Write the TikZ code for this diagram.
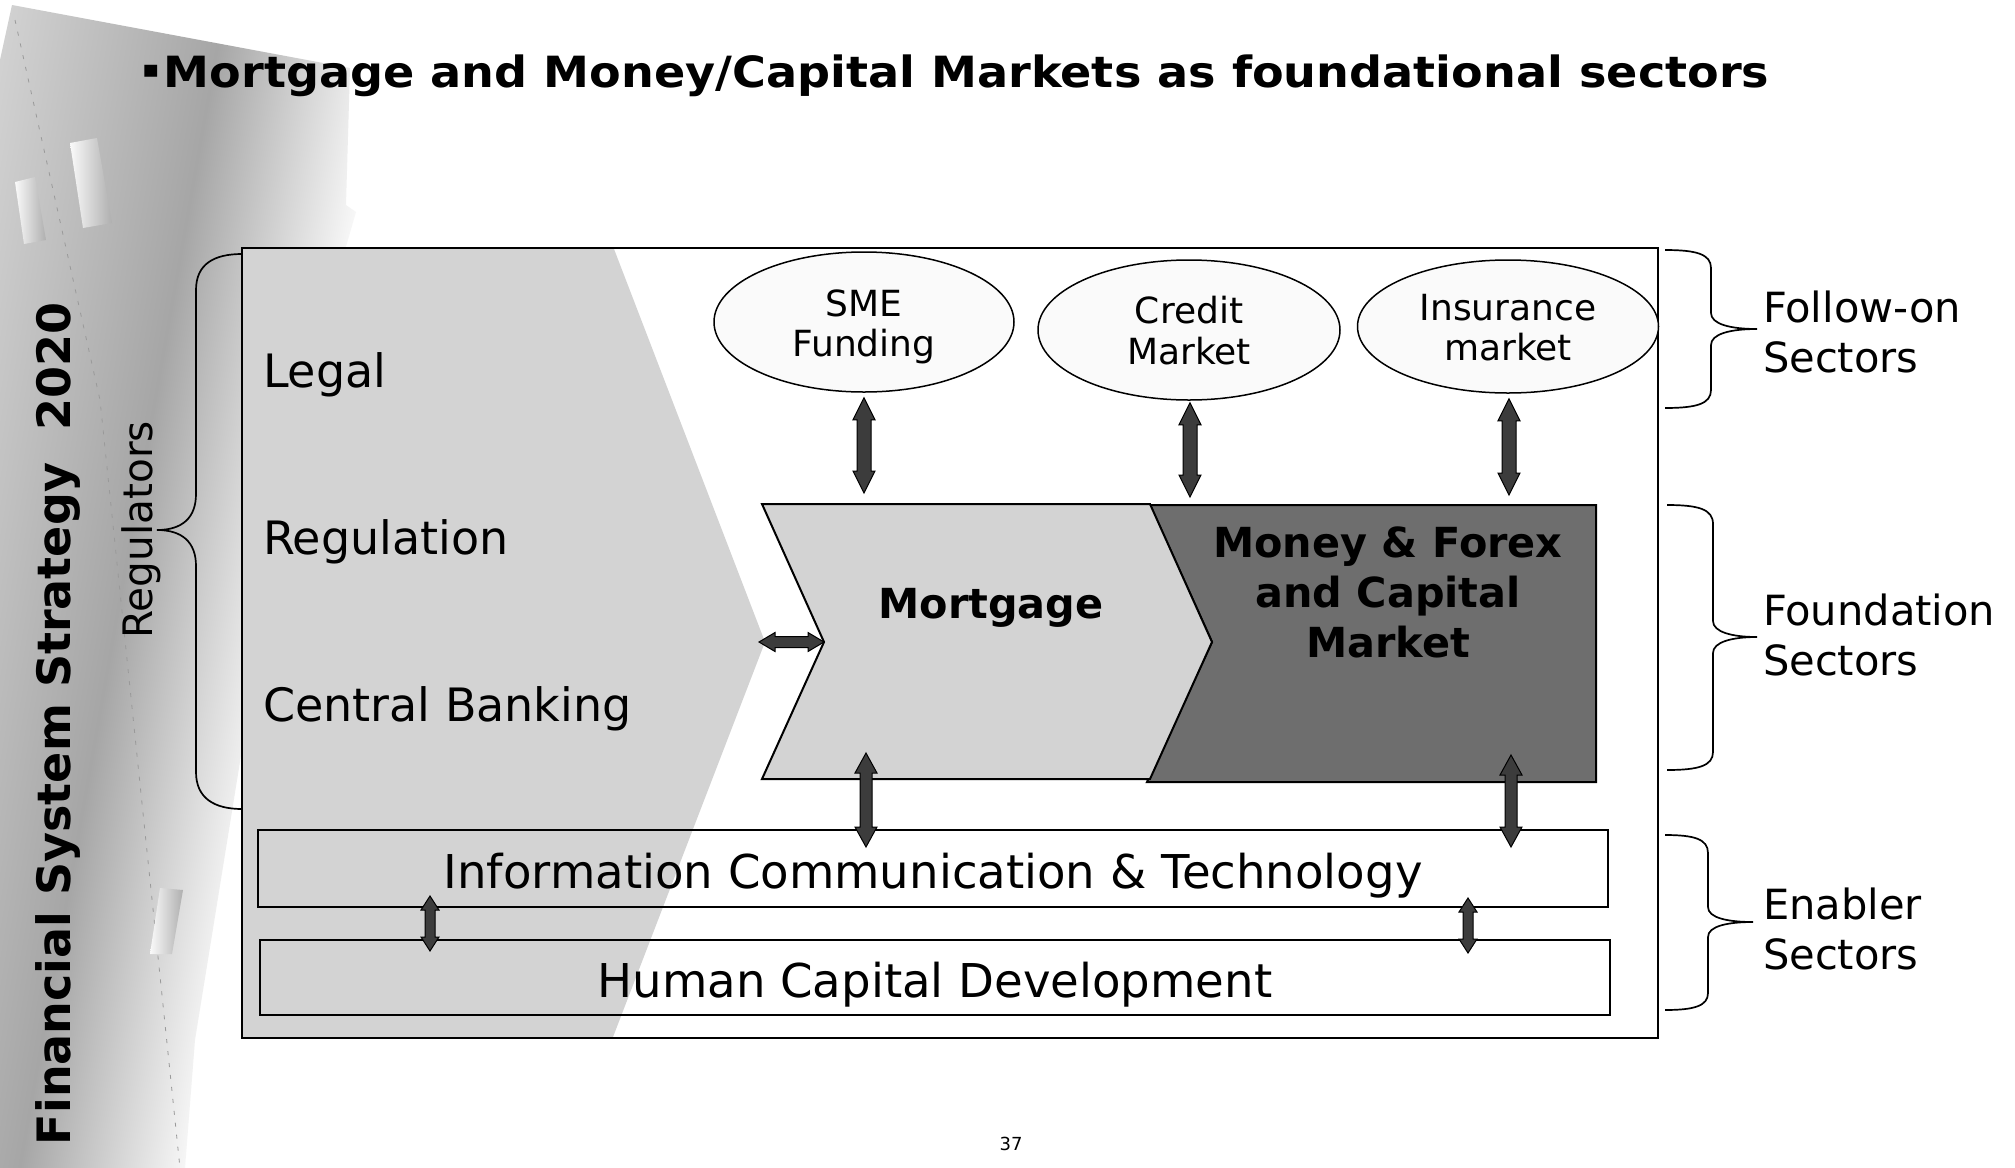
\documentclass[tikz,border=0pt]{standalone}
\usepackage{graphicx}
\usepackage{fontspec}
\setmainfont{DejaVu Sans}
\usetikzlibrary{shapes.geometric,calc}

\definecolor{regiongray}{RGB}{211,211,211}
\definecolor{moneygray}{RGB}{110,110,110}
\definecolor{arrowgray}{RGB}{60,60,60}
\definecolor{ellfill}{RGB}{250,250,250}
\definecolor{curlL}{RGB}{215,215,215}
\definecolor{curlB}{RGB}{166,166,166}
\definecolor{curlW}{RGB}{255,255,255}
\definecolor{cylA}{RGB}{250,250,250}
\definecolor{cylB}{RGB}{175,175,175}
\pgfdeclarehorizontalshading{curlshade}{100bp}{color(0bp)=(curlL); color(41bp)=(curlL); color(49bp)=(curlB); color(55bp)=(curlW); color(100bp)=(curlW)}

% fat vertical double arrow: #1 top tip, #2 bottom tip, #3 half shaft, #4 half head, #5 head length
\newcommand{\fatVArrow}[5]{%
  \filldraw[fatarrow] (#1) -- ($(#1)+(#4,#5)$) -- ($(#1)+(#3,#5)$) -- ($(#2)+(#3,-#5)$) -- ($(#2)+(#4,-#5)$) -- (#2) -- ($(#2)+(-#4,-#5)$) -- ($(#2)+(-#3,-#5)$) -- ($(#1)+(-#3,#5)$) -- ($(#1)+(-#4,#5)$) -- cycle;}
% fat horizontal double arrow: #1 left tip, #2 right tip
\newcommand{\fatHArrow}[5]{%
  \filldraw[fatarrow] (#1) -- ($(#1)+(#5,-#4)$) -- ($(#1)+(#5,-#3)$) -- ($(#2)+(-#5,-#3)$) -- ($(#2)+(-#5,-#4)$) -- (#2) -- ($(#2)+(-#5,#4)$) -- ($(#2)+(-#5,#3)$) -- ($(#1)+(#5,#3)$) -- ($(#1)+(#5,#4)$) -- cycle;}

\begin{document}
\begin{tikzpicture}[x=0.5pt,y=-0.5pt,
  txt/.style={inner sep=0pt, outer sep=0pt},
  lefttxt/.style={txt, anchor=base west, font=\fontsize{23}{27}\selectfont},
  sidetxt/.style={txt, anchor=base west, font=\fontsize{20.8}{24}\selectfont},
  elltxt/.style={txt, anchor=base, font=\fontsize{18}{21}\selectfont},
  moneytxt/.style={txt, anchor=base, font=\bfseries\fontsize{20.7}{24}\selectfont},
  sector/.style={ellipse, draw=black, line width=0.75pt, fill=ellfill, inner sep=0pt},
  enabler/.style={rectangle, draw=black, line width=1pt, inner sep=0pt,
     minimum width=675pt, minimum height=38.5pt, text height=20pt, text depth=0pt,
     font=\fontsize{23.3}{27}\selectfont},
  fatarrow/.style={fill=arrowgray, draw=black, line width=0.5pt, line join=miter},
  bracestyle/.style={draw=black, line width=0.85pt},
  cyl/.style={left color=cylA, right color=cylB}
]
\useasboundingbox (0,0) rectangle (2015,1168);
\fill[white] (0,0) rectangle (2015,1168);

% ---- decorative page curl on the left ----
\begin{scope}
  \clip (12,5) -- (350,68) -- (346,205) -- (356,212) -- (345,250) -- (250,700) -- (195,1040) -- (185,1168) -- (0,1168) -- (0,60) -- cycle;
  \begin{scope}[transform canvas={rotate around={-10:(120,600)}}]
    \shade[shading=curlshade] (-600,-600) rectangle (900,1800);
  \end{scope}
\end{scope}
\draw[black!40, line width=0.4pt, dash pattern=on 2pt off 4pt] (15,20) -- (100,400) -- (180,1168);
\shade[cyl] (70,143) -- (97,138) -- (112,223) -- (83,228) -- cycle;
\shade[cyl] (15,182) -- (35,177) -- (46,240) -- (24,244) -- cycle;
\shade[cyl] (160,888) -- (183,890) -- (172,954) -- (150,954) -- cycle;

% ---- main frame ----
\fill[white] (242,248) rectangle (1658,1038);
\fill[regiongray] (243,249) -- (614,249) -- (765,642) -- (613,1037) -- (243,1037) -- cycle;
\draw[line width=1pt] (242,248) rectangle (1658,1038);

% ---- left brace (Regulators) ----
\draw[bracestyle] (242,254) .. controls (214,254) and (196,264) .. (196,290) -- (196,494)
  .. controls (196,518) and (182,530) .. (157,530)
  .. controls (182,530) and (196,542) .. (196,566) -- (196,772)
  .. controls (196,798) and (214,809) .. (242,809);

% ---- follow-on sectors ----
\node[sector, minimum width=150pt, minimum height=70pt] (sme) at (864,322) {};
\node[sector, minimum width=151pt, minimum height=70pt] (credit) at (1189,330) {};
\node[sector, minimum width=150.5pt, minimum height=66.5pt] (ins) at (1508,326.5) {};
\node[elltxt] (smeA) at (864,316) {SME};
\node[elltxt] (smeB) at (864,356) {Funding};
\node[elltxt] (creA) at (1189,323) {Credit};
\node[elltxt] (creB) at (1189,364) {Market};
\node[elltxt] (insA) at (1508,320) {Insurance};
\node[elltxt] (insB) at (1508,360) {market};

% ---- foundation sectors ----
\coordinate (mTL) at (762,504);
\coordinate (mNotch) at (824,642);
\coordinate (mBL) at (762,779);
\coordinate (mTR) at (1150,504);
\coordinate (mTip) at (1212,642);
\coordinate (mBR) at (1150,779);
\coordinate (kTL) at (1150,505);
\coordinate (kTR) at (1596,505);
\coordinate (kBR) at (1596,782);
\coordinate (kBL) at (1147,782);
\filldraw[fill=moneygray, draw=black, line width=1pt] (kTL) -- (kTR) -- (kBR) -- (kBL) -- (mTip) -- cycle;
\filldraw[fill=regiongray, draw=black, line width=1pt] (mTL) -- (mTR) -- (mTip) -- (mBR) -- (mBL) -- (mNotch) -- cycle;
\node[txt, anchor=base, font=\bfseries\fontsize{20.7}{24}\selectfont] (mort) at (991,618) {Mortgage};
\node[moneytxt] (mon1) at (1388,557) {Money \& Forex};
\node[moneytxt] (mon2) at (1388,607) {and Capital};
\node[moneytxt] (mon3) at (1388,657) {Market};

% ---- enabler sectors ----
\node[enabler] (ict) at (933,868.5) {Information Communication \& Technology};
\node[enabler, minimum height=37.5pt] (hcd) at (935,977.5) {Human Capital Development};

% ---- connectors ----
\coordinate (a1t) at ($(sme.south)+(0,5)$);
\coordinate (a1b) at (864,493);
\coordinate (a2t) at ($(credit.south)+(1,2)$);
\coordinate (a2b) at (1190,497);
\coordinate (a3t) at ($(ins.south)+(1,5)$);
\coordinate (a3b) at (1509,495);
\coordinate (a4l) at (759,642);
\coordinate (a5t) at (866,753);
\coordinate (a5b) at ($(ict.north)+(-67,18)$);
\coordinate (a6t) at (1511,755);
\coordinate (a6b) at ($(ict.north)+(578,18)$);
\coordinate (a7t) at ($(ict.south)+(-503,-12)$);
\coordinate (a7b) at ($(hcd.north)+(-505,12)$);
\coordinate (a8t) at ($(ict.south)+(535,-10)$);
\coordinate (a8b) at ($(hcd.north)+(533,14)$);
\fatVArrow{a1t}{a1b}{7}{11}{22}
\fatVArrow{a2t}{a2b}{7}{11}{22}
\fatVArrow{a3t}{a3b}{7}{11}{22}
\fatHArrow{a4l}{mNotch}{5.5}{9.5}{16}
\fatVArrow{a5t}{a5b}{6}{11}{20}
\fatVArrow{a6t}{a6b}{6}{11}{20}
\fatVArrow{a7t}{a7b}{5}{9}{14}
\fatVArrow{a8t}{a8b}{5}{9}{14}

% ---- regulator texts ----
\node[lefttxt] (legal) at (263,387) {Legal};
\node[lefttxt] (regul) at (263,554) {Regulation};
\node[lefttxt] (cbank) at (263,721) {Central Banking};
\node[txt, rotate=90, anchor=base, font=\fontsize{20.3}{24}\selectfont] (regs) at (152,530) {Regulators};
\node[txt, rotate=90, anchor=base, font=\bfseries\fontsize{23}{28}\selectfont] (fss) at (70,724) {Financial System Strategy\ \ 2020};

% ---- right braces and labels ----
\draw[bracestyle] (1665,250) .. controls (1696,250) and (1711,254) .. (1711,268) -- (1711,313)
  .. controls (1711,324) and (1730,329) .. (1757,329)
  .. controls (1730,329) and (1711,334) .. (1711,345) -- (1711,390)
  .. controls (1711,404) and (1696,408) .. (1665,408);
\draw[bracestyle] (1667,505) .. controls (1698,505) and (1713,509) .. (1713,524) -- (1713,621)
  .. controls (1713,632) and (1732,637) .. (1757,637)
  .. controls (1732,637) and (1713,642) .. (1713,653) -- (1713,752)
  .. controls (1713,766) and (1698,770) .. (1667,770);
\draw[bracestyle] (1665,835) .. controls (1694,835) and (1708,839) .. (1708,853) -- (1708,907)
  .. controls (1708,918) and (1728,922) .. (1753,922)
  .. controls (1728,922) and (1708,926) .. (1708,937) -- (1708,993)
  .. controls (1708,1006) and (1694,1010) .. (1665,1010);
\node[sidetxt] (fol1) at (1763,322) {Follow-on};
\node[sidetxt] (fol2) at (1763,372) {Sectors};
\node[sidetxt] (fou1) at (1763,625) {Foundation};
\node[sidetxt] (fou2) at (1763,675) {Sectors};
\node[sidetxt] (ena1) at (1763,919) {Enabler};
\node[sidetxt] (ena2) at (1763,969) {Sectors};

% ---- title and page number ----
\node[txt, anchor=base west, font=\bfseries\fontsize{21.5}{26}\selectfont] (title) at (142,87)
  {\scalebox{1.073}[1]{\raisebox{5pt}{\fontsize{12}{12}\selectfont ▪}\hspace{2pt}Mortgage and Money/Capital Markets as foundational sectors}};
\node[txt, anchor=base, font=\fontsize{9}{11}\selectfont] (pg) at (1011,1150) {37};
\end{tikzpicture}
\end{document}
